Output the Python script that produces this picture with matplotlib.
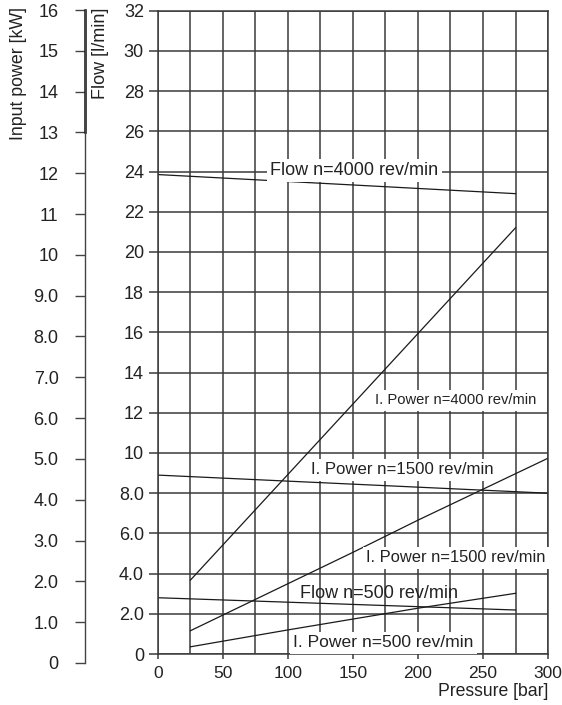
import numpy as np
import matplotlib.pyplot as plt
from matplotlib import font_manager
from matplotlib.ticker import FixedLocator, FuncFormatter

plt.rcParams['font.family'] = ['Liberation Sans', 'DejaVu Sans']

# Pressure axis in bar, flow in l/min, input power in kW
FLOW_4000_P = [0, 275]
FLOW_4000 = [23.85, 22.9]
POWER_4000_P = [25, 275]
POWER_4000 = [1.84, 10.6]

FLOW_1500_P = [0, 300]
FLOW_1500 = [8.9, 8.0]
POWER_1500_P = [25, 50, 100, 150, 200, 250, 300]
POWER_1500 = [0.58, 0.97, 1.75, 2.53, 3.33, 4.1, 4.87]

FLOW_500_P = [0, 275]
FLOW_500 = [2.8, 2.19]
POWER_500_P = [25, 100, 200, 275]
POWER_500 = [0.18, 0.6, 1.14, 1.51]

FLOW_TICKS = list(range(0, 33, 2))
POWER_TICKS = list(range(0, 17))

LINE = '#1a1a1a'
GRID = '#3a3a3a'
TXT = '#222222'

# condensed face for the tight 4000 rev/min power label, if present
try:
    font_manager.findfont('Liberation Sans Narrow', fallback_to_default=False)
    narrow = dict(family=['Liberation Sans Narrow'], fontsize=12.9)
except ValueError:
    narrow = dict(fontsize=10.6)

fig = plt.figure(figsize=(5.62, 7.05), dpi=100)
ax = fig.add_axes([0.2811, 0.0723, 0.694, 0.9125])

ax.set_xlim(0, 300)
ax.set_ylim(0, 32)

# grid: every 25 bar, every 2 l/min
ax.xaxis.set_major_locator(FixedLocator(range(0, 301, 50)))
ax.xaxis.set_minor_locator(FixedLocator(range(25, 300, 50)))
ax.yaxis.set_major_locator(FixedLocator(FLOW_TICKS))
ax.grid(which='both', axis='x', color=GRID, lw=1.1, zorder=1)
ax.grid(which='major', axis='y', color=GRID, lw=1.1, zorder=1)
ax.set_axisbelow(True)
for s in ax.spines.values():
    s.set_color(GRID)
    s.set_linewidth(1.1)

ax.tick_params(axis='x', which='major', direction='out', length=3.6, width=1.1,
               color=GRID, pad=5, labelsize=12.5, labelcolor=TXT)
ax.tick_params(axis='x', which='minor', length=0)
ax.tick_params(axis='y', direction='out', length=6.5, width=1.1, color=GRID,
               pad=3.6, labelsize=13, labelcolor=TXT)


def scale_fmt(v, pos):
    v = int(round(v))
    if v == 0:
        return '0'
    return f'{v}' if v >= 10 else f'{v:.1f}'


ax.yaxis.set_major_formatter(FuncFormatter(scale_fmt))

# curves; power plotted on the flow grid (1 kW = 2 l/min)
ax.plot(FLOW_4000_P, FLOW_4000, color=LINE, lw=0.9, zorder=2)
ax.plot(POWER_4000_P, 2 * np.array(POWER_4000), color=LINE, lw=0.9, zorder=2)
ax.plot(FLOW_1500_P, FLOW_1500, color=LINE, lw=0.9, zorder=2)
ax.plot(POWER_1500_P, 2 * np.array(POWER_1500), color=LINE, lw=0.9, zorder=2)
ax.plot(FLOW_500_P, FLOW_500, color=LINE, lw=0.9, zorder=2)
ax.plot(POWER_500_P, 2 * np.array(POWER_500), color=LINE, lw=0.9, zorder=2)

box = dict(facecolor='white', edgecolor='none', pad=2.5)
ax.text(86.2, 23.83, 'Flow n=4000 rev/min', fontsize=13, color=TXT,
        va='baseline', bbox=box, zorder=3)
ax.text(166.9, 12.42, 'I. Power n=4000 rev/min', color=TXT,
        va='baseline', bbox=box, zorder=3, **narrow)
ax.text(117.4, 8.94, 'I. Power n=1500 rev/min', fontsize=12.1, color=TXT,
        va='baseline', bbox=box, zorder=3)
ax.text(160, 4.56, 'I. Power n=1500 rev/min', fontsize=11.9, color=TXT,
        va='baseline', bbox=box, zorder=3)
ax.text(109.2, 2.77, 'Flow n=500 rev/min', fontsize=13, color=TXT,
        va='baseline', zorder=3)
ax.text(104.1, 0.33, 'I. Power n=500 rev/min', fontsize=12.6, color=TXT,
        va='baseline', bbox=box, zorder=3)

# separate input power scale on the far left
axp = fig.add_axes([0.1512, 0.0596, 0.001, 0.9262])
axp.set_ylim(0, 16)
axp.set_xticks([])
for k in ['top', 'right', 'bottom']:
    axp.spines[k].set_visible(False)
axp.patch.set_visible(False)
axp.spines['left'].set_color('#444444')
axp.spines['left'].set_linewidth(1.0)
axp.yaxis.set_major_locator(FixedLocator(POWER_TICKS))
axp.yaxis.set_major_formatter(FuncFormatter(scale_fmt))
axp.tick_params(axis='y', direction='out', length=7, width=1.0, color='#444444',
                pad=12, labelsize=13, labelcolor=TXT)
axp.plot([0, 0], [13, 16], color='#111111', lw=1.8, clip_on=False)

fig.text(0.0326, 0.8955, 'Input power [kW]', rotation=90, ha='center', va='center',
         fontsize=12.8, color=TXT)
fig.text(0.1788, 0.9244, 'Flow [l/min]', rotation=90, ha='center', va='center',
         fontsize=13, color=TXT)
fig.text(0.975, 0.0189, 'Pressure [bar]', ha='right', va='center',
         fontsize=12.7, color=TXT)

fig.savefig('out.png', dpi=100)
